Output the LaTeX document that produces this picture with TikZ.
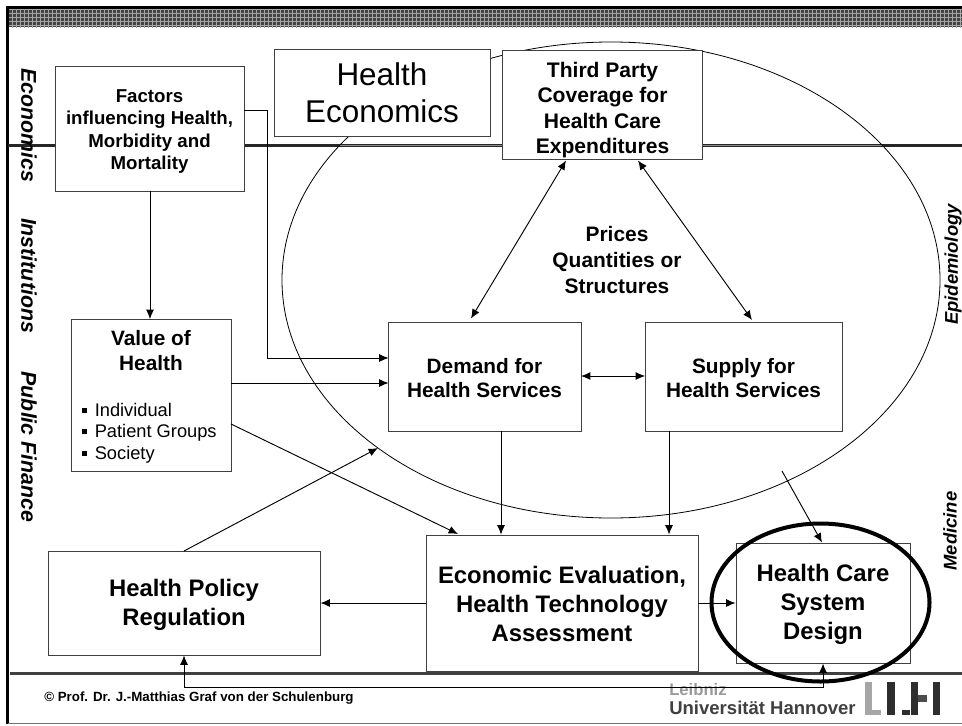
\documentclass[tikz,border=0pt]{standalone}
\usepackage{fontspec}
\setmainfont{Liberation Sans}
\usetikzlibrary{arrows.meta,patterns,shapes.geometric}
\newcommand{\fsz}[1]{\fontsize{#1}{#1}\selectfont}
\tikzset{
 x=0.75pt,y=-0.75pt,
 bx/.style={draw=black!75,fill=white,line width=0.75pt,align=center,font=\bfseries,inner sep=0pt,anchor=center},
 lnk/.style={line width=0.7pt,-{Latex[length=7pt,width=6pt]}},
 dbl/.style={line width=0.7pt,{Latex[length=7pt,width=6pt]}-{Latex[length=7pt,width=6pt]}},
 side/.style={font=\bfseries\itshape\fsz{16},anchor=center},
 sider/.style={font=\bfseries\itshape\fsz{13.8},anchor=center},
 bul/.style={font=\fsz{13.7},anchor=west,inner sep=0pt}
}
\newcommand{\rbox}[6]{\node[bx,minimum width=#4*0.75pt,minimum height=#5*0.75pt,#6] (#1) at ({#2+#4/2},{#3+#5/2}) {};}
\newcommand{\sqbul}{\raisebox{2.6pt}{\rule{3.7pt}{3.7pt}}\hspace{5.7pt}}
\begin{document}
\begin{tikzpicture}
\useasboundingbox (0,0) rectangle (962,725);
\fill[white] (0,0) rectangle (962,725);
% header band
\fill[black!74] (8,8) rectangle (962,27);
\fill[pattern=grid,pattern color=black!35] (8,8) rectangle (962,27);
\draw[black,line width=1.7pt] (962,7.5) -- (7.5,7.5) -- (7.5,724);
\draw[black!55,line width=0.8pt] (7.5,723.5) -- (962,723.5);
% horizontal rules
\draw[black!85,line width=1.7pt] (8,145.5) -- (962,145.5);
\draw[black!45,line width=1.3pt] (340,145.5) -- (882,145.5);
\draw[black!75,line width=1.6pt] (10,673.5) -- (962,673.5);
% big ellipse
\node[draw=black,line width=0.6pt,ellipse,outer sep=0pt,minimum width=658*0.75pt,minimum height=476*0.75pt,inner sep=0pt] (scope) at (611,280) {};
\coordinate (scopeout) at (782,471);
% boxes
\rbox{econ}{274}{49}{216}{87}{}
\node[align=center,font=\fsz{23.6}] at (382,93) {Health\\[4.5pt]Economics};
\rbox{fac}{55}{66}{189}{125}{}
\node[align=center,font=\bfseries\fsz{14}] at (149.5,131.5) {Factors\\[2.6pt]influencing Health,\\[2.6pt]Morbidity and\\[2.6pt]Mortality};
\rbox{third}{502}{50}{200}{109}{}
\node[align=center,font=\bfseries\fsz{15.8}] at (602.5,110) {Third Party\\[3.2pt]Coverage for\\[3.2pt]Health Care\\[3.2pt]Expenditures};
\rbox{val}{71}{319}{160}{152}{}
\node[align=center,font=\bfseries\fsz{15.6}] at (151,350.5) {Value of\\[3.6pt]Health};
\node[bul] (bi) at (82,410) {\sqbul Individual};
\node[bul] (bp) at (82,433) {\sqbul Patient Groups};
\node[bul] (bs) at (82,455) {\sqbul Society};
\rbox{dem}{388}{322}{193}{109}{}
\node[align=center,font=\bfseries\fsz{15.6}] at (484.5,378) {Demand for\\[3pt]Health Services};
\rbox{sup}{645}{322}{197}{109}{}
\node[align=center,font=\bfseries\fsz{15.6}] at (743.5,378) {Supply for\\[3pt]Health Services};
\rbox{pol}{48}{551}{272}{104}{}
\node[align=center,font=\bfseries\fsz{17.9}] at (184,604.5) {Health Policy\\[3.8pt]Regulation};
\rbox{eva}{426}{535}{272}{136}{}
\node[align=center,font=\bfseries\fsz{17.9}] at (562,604) {Economic Evaluation,\\[3.8pt]Health Technology\\[3.8pt]Assessment};
\rbox{hcs}{736}{543}{174}{120}{}
\node[align=center,font=\bfseries\fsz{17.9}] at (823,604) {Health Care\\[3.8pt]System\\[3.8pt]Design};
\node[align=center,font=\bfseries\fsz{15.7}] (pq) at (617,260) {Prices\\[3.7pt]Quantities or\\[3.7pt]Structures};
% connectors
\draw[lnk] (150,191) -- (150,319);
\draw[lnk] (244,110) -- (267,110) -- (267,358) -- (388.5,358);
\draw[lnk] (231,383) -- (388.5,383);
\draw[lnk] (231,424) -- (458,534);
\draw[lnk] (184,551) -- (378,448);
\draw[dbl] (581,376) -- (645,376);
\draw[dbl] (471,318.5) -- (566,160.5);
\draw[dbl] (752,320) -- (638,160.5);
\draw[lnk] (501,431) -- (501,534.5);
\draw[lnk] (669,431) -- (669,534.5);
\draw[lnk] (scopeout) -- (822,542.5);
\draw[lnk] (426,603) -- (320.5,603);
\draw[lnk] (698,603) -- (735.5,603);
% footer text under the return line
\node[anchor=west,inner sep=0pt,font=\bfseries\fsz{10}] (copy) at (44,698) {© Prof. Dr. J.-Matthias Graf von der Schulenburg};
\node[anchor=west,inner sep=0pt,font=\bfseries\fsz{12.5},text=black!40] (leib) at (669,690) {Leibniz};
\node[anchor=west,inner sep=0pt,font=\bfseries\fsz{13.9},text=black!75] (uni) at (669,708) {Universität Hannover};
\draw[dbl] (823,663.5) -- (823,687) -- (184,687) -- (184,655.5);
% focus ellipse
\node[draw=black,line width=3pt,ellipse,outer sep=0pt,minimum width=218*0.75pt,minimum height=158*0.75pt,inner sep=0pt] (focus) at (820.5,602.5) {};
% side labels
\node[side,rotate=-90] (l1) at (29,125) {Economics};
\node[side,rotate=-90] (l2) at (29,275.5) {Institutions};
\node[side,rotate=-90] (l3) at (29,447) {Public Finance};
\node[sider,rotate=90] (r1) at (953,264.5) {Epidemiology};
\node[sider,rotate=90] (r2) at (950,531) {Medicine};
% logo
\fill[black!35] (865,682) rectangle (872,715);
\fill[black!35] (872,710) rectangle (881,715);
\fill[black!82] (887,682) rectangle (895,715);
\fill[black!82] (902,710) rectangle (910,715);
\fill[black!82] (911,682) rectangle (918,715);
\fill[black!70] (918,695) rectangle (927,702);
\fill[black!82] (933,682) rectangle (940,715);
\end{tikzpicture}
\end{document}
